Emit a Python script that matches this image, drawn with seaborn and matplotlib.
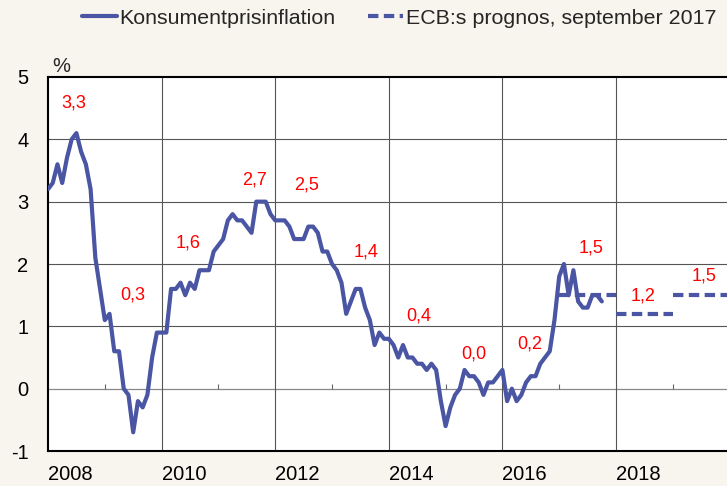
import matplotlib
matplotlib.use("Agg")
import matplotlib.pyplot as plt
from matplotlib.lines import Line2D
import numpy as np
import pandas as pd
import seaborn as sns

# Monthly consumer price inflation (%), Jan 2008 - Oct 2017
start_year = 2008
inflation = [
    3.2, 3.3, 3.6, 3.3, 3.7, 4.0, 4.1, 3.8, 3.6, 3.2, 2.1, 1.6,      # 2008
    1.1, 1.2, 0.6, 0.6, 0.0, -0.1, -0.7, -0.2, -0.3, -0.1, 0.5, 0.9, # 2009
    0.9, 0.9, 1.6, 1.6, 1.7, 1.5, 1.7, 1.6, 1.9, 1.9, 1.9, 2.2,      # 2010
    2.3, 2.4, 2.7, 2.8, 2.7, 2.7, 2.6, 2.5, 3.0, 3.0, 3.0, 2.8,      # 2011
    2.7, 2.7, 2.7, 2.6, 2.4, 2.4, 2.4, 2.6, 2.6, 2.5, 2.2, 2.2,      # 2012
    2.0, 1.9, 1.7, 1.2, 1.4, 1.6, 1.6, 1.3, 1.1, 0.7, 0.9, 0.8,      # 2013
    0.8, 0.7, 0.5, 0.7, 0.5, 0.5, 0.4, 0.4, 0.3, 0.4, 0.3, -0.2,     # 2014
    -0.6, -0.3, -0.1, 0.0, 0.3, 0.2, 0.2, 0.1, -0.1, 0.1, 0.1, 0.2,  # 2015
    0.3, -0.2, 0.0, -0.2, -0.1, 0.1, 0.2, 0.2, 0.4, 0.5, 0.6, 1.1,   # 2016
    1.8, 2.0, 1.5, 1.9, 1.4, 1.3, 1.3, 1.5, 1.5, 1.4,                # 2017
]

# ECB forecast, September 2017 (annual averages)
forecast_years = [2017, 2018, 2019]
forecast_values = [1.5, 1.2, 1.5]

# annual average labels
label_years = [2008, 2009, 2010, 2011, 2012, 2013, 2014, 2015, 2016, 2017, 2018, 2019]
label_values = [3.3, 0.3, 1.6, 2.7, 2.5, 1.4, 0.4, 0.0, 0.2, 1.5, 1.2, 1.5]

# label placement (x offset into the year, y height)
label_dx = [0.46, 0.5, 0.46, 0.63, 0.56, 0.6, 0.53, 0.5, 0.49, 0.56, 0.48, 0.55]
label_y = [4.59, 1.51, 2.34, 3.35, 3.26, 2.2, 1.17, 0.56, 0.72, 2.25, 1.49, 1.81]

year_ticks = [2008, 2010, 2012, 2014, 2016, 2018]
y_ticks = [-1, 0, 1, 2, 3, 4, 5]

line_color = "#4A55A3"
bg = "#F8F4EE"

df = pd.DataFrame({
    "x": [start_year + i / 12 for i in range(len(inflation))],
    "value": inflation,
})

fc_rows = []
for yr, val in zip(forecast_years, forecast_values):
    fc_rows.append({"x": yr, "value": val, "seg": yr})
    fc_rows.append({"x": yr + 1, "value": val, "seg": yr})
df_fc = pd.DataFrame(fc_rows)

sns.set_style("white")
plt.rcParams["font.family"] = ["Liberation Sans", "DejaVu Sans"]

fig = plt.figure(figsize=(7.27, 4.86), dpi=100)
fig.patch.set_facecolor(bg)
ax = fig.add_axes([48 / 727, 1 - 451 / 486, 1 - 48 / 727, (451 - 77) / 486])
ax.set_facecolor("white")

# grid
for yv in [1, 2, 3, 4]:
    ax.axhline(yv, color="#555555", lw=0.8, zorder=1)
ax.axhline(0, color="#888888", lw=0.9, zorder=1)
for xv in year_ticks[1:]:
    ax.axvline(xv, color="#555555", lw=0.8, zorder=1)
ax.vlines([2009, 2011, 2013, 2015, 2017, 2019], 0, 0.07, color="#666666", lw=0.8, zorder=1)

sns.lineplot(data=df_fc, x="x", y="value", units="seg", estimator=None,
             color=line_color, lw=3.0, linestyle=(0, (2.5, 1.3)), ax=ax, zorder=3)
sns.lineplot(data=df, x="x", y="value", color=line_color, lw=3.0, ax=ax, zorder=4)

for yr, val, dx, yy in zip(label_years, label_values, label_dx, label_y):
    ax.text(yr + dx, yy, f"{val:.1f}".replace(".", ","), color="red",
            fontsize=13, ha="center", va="center", zorder=5)

ax.set_xlim(2008, 2008 + 679 / 56.8)
ax.set_ylim(-1, 5)
ax.set_xticks(year_ticks)
ax.set_xticklabels([str(y) for y in year_ticks], ha="left")
ax.set_yticks(y_ticks)
ax.set_yticklabels([str(v) for v in y_ticks])
ax.tick_params(axis="both", length=0, labelsize=14.5, colors="black")
ax.tick_params(axis="y", pad=14)
ax.tick_params(axis="x", pad=10)
ax.set_xlabel("")
ax.set_ylabel("")

for side in ["left", "bottom", "top"]:
    ax.spines[side].set_color("black")
    ax.spines[side].set_linewidth(1.5)
ax.spines["right"].set_visible(False)

fig.text(61 / 727, 1 - 67 / 486, "%", fontsize=14.5, ha="center", va="center")

handles = [
    Line2D([], [], color=line_color, lw=3.0),
    Line2D([], [], color=line_color, lw=3.0, linestyle=(0, (2.5, 1.3))),
]
fig.legend(handles, ["Konsumentprisinflation", "ECB:s prognos, september 2017"],
           loc="center", bbox_to_anchor=(399 / 727, 1 - 18 / 486), ncol=2,
           frameon=False, fontsize=15.4, handlelength=1.64, handletextpad=0.14,
           columnspacing=1.5)

fig.savefig("out.png", dpi=100, facecolor=bg)
